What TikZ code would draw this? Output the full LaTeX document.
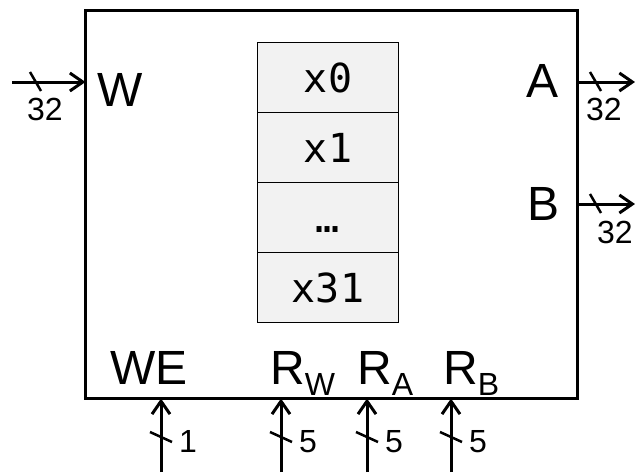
\documentclass[tikz,border=0pt]{standalone}
\usepackage{fontspec}
\setmainfont{Liberation Sans}
\setmonofont{DejaVu Sans Mono}
\usetikzlibrary{arrows.meta}
\definecolor{cellgray}{HTML}{F2F2F2}
\begin{document}
\begin{tikzpicture}[x=1pt,y=-1pt,
  bus/.style={line width=3pt,-{Straight Barb[length=13pt,width=18pt,line width=3pt]}},
  tick/.style={line width=2.5pt},
  cell/.style={draw,line width=1.5pt,fill=cellgray,minimum width=141pt,minimum height=70pt,
    anchor=north west,inner sep=0pt,outer sep=0pt,font=\fontsize{40}{40}\ttfamily},
  port/.style={anchor=base west,inner sep=0pt,font=\fontsize{48}{48}\selectfont},
  width/.style={anchor=base west,inner sep=0pt,font=\fontsize{32}{32}\selectfont}]
\useasboundingbox (0,0) rectangle (635,472);
\node[draw,line width=3pt,minimum width=492pt,minimum height=388pt,anchor=north west,inner sep=0pt,outer sep=0pt] (rf) at (85.5,10.5) {};
% register cells
\node[cell] (x0) at (257.5,42.5) {x0};
\node[cell] (x1) at (257.5,112.5) {x1};
\node[cell] (xd) at (257.5,182.5) {\vphantom{x1}…};
\node[cell] (x31) at (257.5,252.5) {x31};
% port labels
\node[port] (lW) at (97,106) {W};
\node[port] (lA) at (526,97) {A};
\node[port] (lB) at (527,220) {B};
\node[port] (lWE) at (110,384) {WE};
\newcommand{\subl}[1]{\raisebox{-11pt}{\fontsize{32}{32}\selectfont #1}}
\node[port] (lRW) at (270,384) {R\subl{W}};
\node[port] (lRA) at (357,384) {R\subl{A}};
\node[port] (lRB) at (443,384) {R\subl{B}};
% input W
\coordinate (win) at (12,82);
\draw[bus] (win) -- (win -| rf.west);
\draw[tick] (30,72) -- (41,91);
\node[width] (w32) at (27,120) {32};
% output A
\coordinate (aout) at (635,82);
\draw[bus] (aout -| rf.east) -- (aout);
\draw[tick] (590,72) -- (601,91);
\node[width] (a32) at (586,120) {32};
% output B
\coordinate (bout) at (635,204);
\draw[bus] (bout -| rf.east) -- (bout);
\draw[tick] (590,194) -- (601,213);
\node[width] (b32) at (597,243) {32};
% bottom inputs
\foreach \x/\n/\lab in {161/we/1,281/rw/5,367/ra/5,451/rb/5}{
  \coordinate (\n) at (\x,472);
  \draw[bus] (\n) -- (\n |- rf.south);
  \draw[tick] (\x-11,432) -- (\x+11,442);
  \node[width] (\n w) at (\x+18,452) {\lab};
}
\end{tikzpicture}
\end{document}
